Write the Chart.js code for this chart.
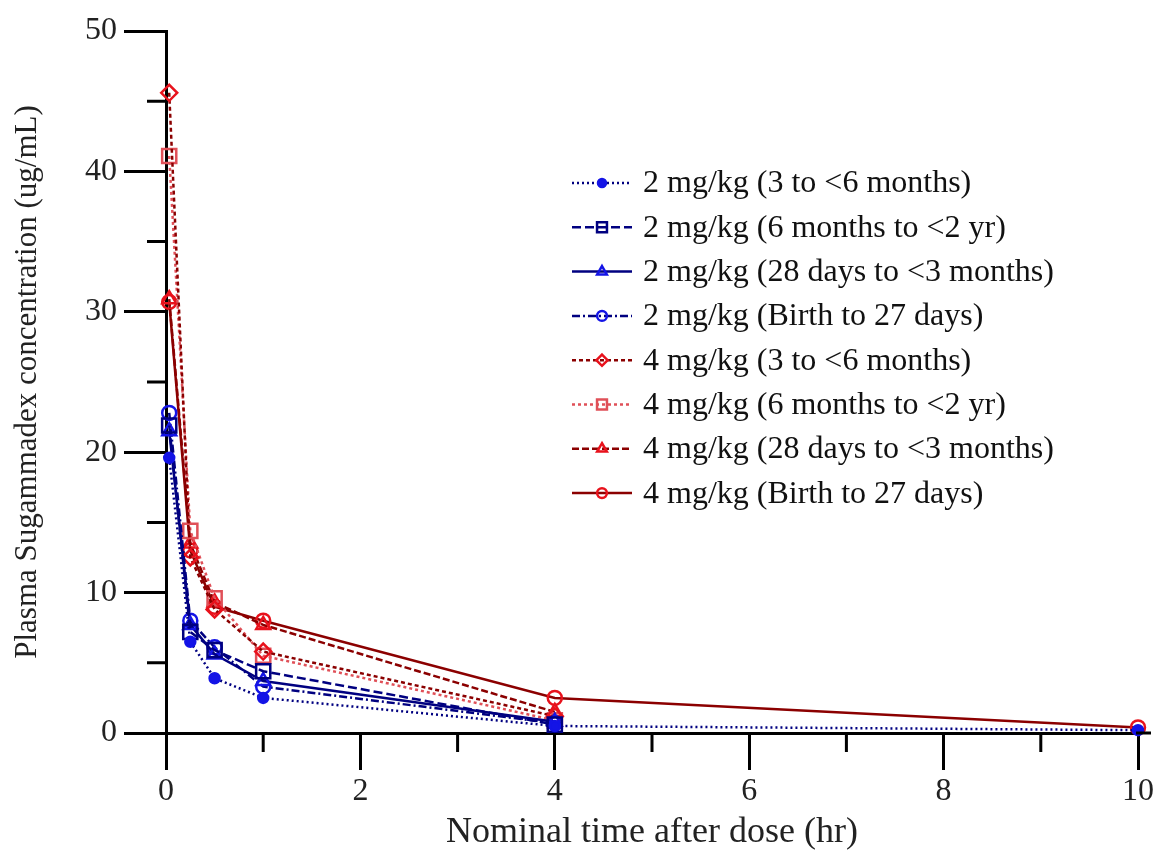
<!DOCTYPE html>
<html>
<head>
<meta charset="utf-8">
<script src="https://cdn.jsdelivr.net/npm/chart.js@4.4.1/dist/chart.umd.min.js"></script>
<style>
  html, body { margin: 0; padding: 0; background: #fff; }
</style>
</head>
<body>
<canvas id="pk" width="1156" height="855"></canvas>
<script>
// nominal sampling times (hr)
const times = [0.033, 0.25, 0.5, 1, 4, 10];

// plasma sugammadex (ug/mL)
const seriesNames = [
  '2 mg/kg (3 to <6 months)',
  '2 mg/kg (6 months to <2 yr)',
  '2 mg/kg (28 days to <3 months)',
  '2 mg/kg (Birth to 27 days)',
  '4 mg/kg (3 to <6 months)',
  '4 mg/kg (6 months to <2 yr)',
  '4 mg/kg (28 days to <3 months)',
  '4 mg/kg (Birth to 27 days)'
];
const d2_3to6mo   = [19.6, 6.5, 3.9, 2.5, 0.5, 0.2];
const d2_6moTo2yr = [21.9, 7.2, 5.9, 4.4, 0.6, null];
const d2_28dTo3mo = [21.5, 7.7, 5.6, 3.7, 0.8, null];
const d2_birth27d = [22.8, 8.0, 6.1, 3.3, 0.7, null];
const d4_3to6mo   = [45.6, 12.5, 8.8, 5.8, 1.2, null];
const d4_6moTo2yr = [41.1, 14.4, 9.6, 5.5, 0.9, null];
const d4_28dTo3mo = [30.9, 13.5, 9.3, 7.7, 1.5, null];
const d4_birth27d = [30.7, 13.0, 9.0, 8.0, 2.5, 0.4];

const yTickLabels = [0, 10, 20, 30, 40, 50];
const xTickLabels = [0, 2, 4, 6, 8, 10];

const NAVY = '#000080';
const BLUE = '#1414e6';
const DKRED = '#8b0000';
const RED = '#e8121c';
const PINK = '#e05058';
const FONT = "'Liberation Serif', 'Times New Roman', serif";

function pts(vals) {
  const out = [];
  vals.forEach((v, i) => { if (v !== null) out.push({ x: times[i], y: v }); });
  return out;
}

function ds(i, vals, line, dash, mk, shape, r, fill) {
  return {
    label: seriesNames[i],
    data: pts(vals),
    borderColor: line,
    borderWidth: 2.5,
    borderDash: dash,
    pointStyle: shape,
    pointRadius: r,
    pointBorderColor: mk,
    pointBorderWidth: 2.5,
    pointBackgroundColor: fill,
    tension: 0,
    fill: false,
    clip: false
  };
}

const datasets = [
  ds(0, d2_3to6mo,   NAVY,  [2, 3],        BLUE, 'circle',   5, BLUE),
  ds(1, d2_6moTo2yr, NAVY,  [9, 4],        NAVY, 'rect',     10, 'rgba(0,0,0,0)'),
  ds(2, d2_28dTo3mo, NAVY,  [],            BLUE, 'triangle', 8, 'rgba(0,0,0,0)'),
  ds(3, d2_birth27d, NAVY,  [8, 3, 2, 3],  BLUE, 'circle',   7, 'rgba(0,0,0,0)'),
  ds(4, d4_3to6mo,   DKRED, [4, 3],        RED,  'rectRot',  8, 'rgba(0,0,0,0)'),
  ds(5, d4_6moTo2yr, PINK,  [3, 3],        PINK, 'rect',     10, 'rgba(0,0,0,0)'),
  ds(6, d4_28dTo3mo, DKRED, [7, 3],        RED,  'triangle', 8, 'rgba(0,0,0,0)'),
  ds(7, d4_birth27d, DKRED, [],            RED,  'circle',   7, 'rgba(0,0,0,0)')
];

function drawMarker(ctx, shape, x, y, r, stroke, fill) {
  ctx.save();
  ctx.setLineDash([]);
  ctx.beginPath();
  if (shape === 'circle') {
    ctx.arc(x, y, r, 0, Math.PI * 2);
  } else if (shape === 'rect') {
    const s = r * Math.SQRT1_2;
    ctx.rect(x - s, y - s, 2 * s, 2 * s);
  } else if (shape === 'triangle') {
    const h = r * 1.5;
    ctx.moveTo(x, y - r);
    ctx.lineTo(x + h / Math.sqrt(3), y + r / 2);
    ctx.lineTo(x - h / Math.sqrt(3), y + r / 2);
    ctx.closePath();
  } else if (shape === 'rectRot') {
    ctx.moveTo(x, y - r);
    ctx.lineTo(x + r, y);
    ctx.lineTo(x, y + r);
    ctx.lineTo(x - r, y);
    ctx.closePath();
  }
  ctx.fillStyle = fill;
  ctx.fill();
  ctx.lineWidth = 2.5;
  ctx.strokeStyle = stroke;
  ctx.stroke();
  ctx.restore();
}

// minor ticks, x-axis tail and the legend
const extras = {
  id: 'extras',
  afterDraw(chart) {
    const ctx = chart.ctx;
    const xs = chart.scales.x, ys = chart.scales.y;
    const area = chart.chartArea;
    ctx.save();
    ctx.strokeStyle = '#000';
    ctx.lineWidth = 3;
    ctx.beginPath();
    for (let v = 5; v < 50; v += 10) {
      const py = ys.getPixelForValue(v);
      ctx.moveTo(area.left - 19, py);
      ctx.lineTo(area.left, py);
    }
    for (let v = 1; v < 10; v += 2) {
      const px = xs.getPixelForValue(v);
      ctx.moveTo(px, area.bottom);
      ctx.lineTo(px, area.bottom + 19);
    }
    ctx.moveTo(area.right - 2, area.bottom);
    ctx.lineTo(area.right + 13, area.bottom);
    ctx.stroke();

    // legend
    ctx.font = '32px ' + FONT;
    ctx.textBaseline = 'middle';
    ctx.fillStyle = '#111';
    chart.data.datasets.forEach((d, i) => {
      const y = 183 + i * 44.3;
      ctx.save();
      ctx.strokeStyle = d.borderColor;
      ctx.lineWidth = 2.5;
      ctx.setLineDash(d.borderDash);
      ctx.beginPath();
      ctx.moveTo(572, y);
      ctx.lineTo(632, y);
      ctx.stroke();
      ctx.restore();
      drawMarker(ctx, d.pointStyle, 602, y, Math.max(4, d.pointRadius * 0.7),
        d.pointBorderColor, d.pointBackgroundColor);
      ctx.fillText(d.label, 643, y + 1);
    });
    ctx.restore();
  }
};

new Chart(document.getElementById('pk'), {
  type: 'line',
  data: { datasets },
  plugins: [extras],
  options: {
    responsive: false,
    devicePixelRatio: 1,
    animation: false,
    layout: { padding: { top: 31, right: 18, left: 0, bottom: 0 } },
    plugins: { legend: { display: false }, tooltip: { enabled: false } },
    scales: {
      x: {
        type: 'linear',
        min: 0,
        max: 10,
        afterFit: s => { s.height = 122; },
        border: { color: '#000', width: 3 },
        grid: {
          drawOnChartArea: false,
          tickLength: 37,
          tickWidth: 3,
          tickColor: c => (xTickLabels.includes(c.tick.value) ? '#000' : 'rgba(0,0,0,0)')
        },
        ticks: {
          stepSize: 1,
          maxRotation: 0,
          autoSkip: false,
          padding: 2,
          color: '#222',
          font: { family: FONT, size: 32 },
          callback: v => (xTickLabels.includes(v) ? String(v) : '')
        },
        title: {
          display: true,
          text: 'Nominal time after dose (hr)',
          color: '#222',
          font: { family: FONT, size: 36 },
          padding: { top: 0, bottom: 1 }
        }
      },
      y: {
        type: 'linear',
        min: 0,
        max: 50,
        afterFit: s => { s.width = 166; },
        border: { color: '#000', width: 3 },
        grid: {
          drawOnChartArea: false,
          tickLength: 42,
          tickWidth: 3,
          tickColor: c => (yTickLabels.includes(c.tick.value) ? '#000' : 'rgba(0,0,0,0)')
        },
        ticks: {
          stepSize: 5,
          autoSkip: false,
          padding: 7,
          color: '#222',
          font: { family: FONT, size: 32 },
          callback: v => (yTickLabels.includes(v) ? String(v) : '')
        },
        title: {
          display: true,
          text: 'Plasma Sugammadex concentration (ug/mL)',
          color: '#222',
          font: { family: FONT, size: 31 },
          padding: { top: 9, bottom: 0 }
        }
      }
    }
  }
});
</script>
</body>
</html>
